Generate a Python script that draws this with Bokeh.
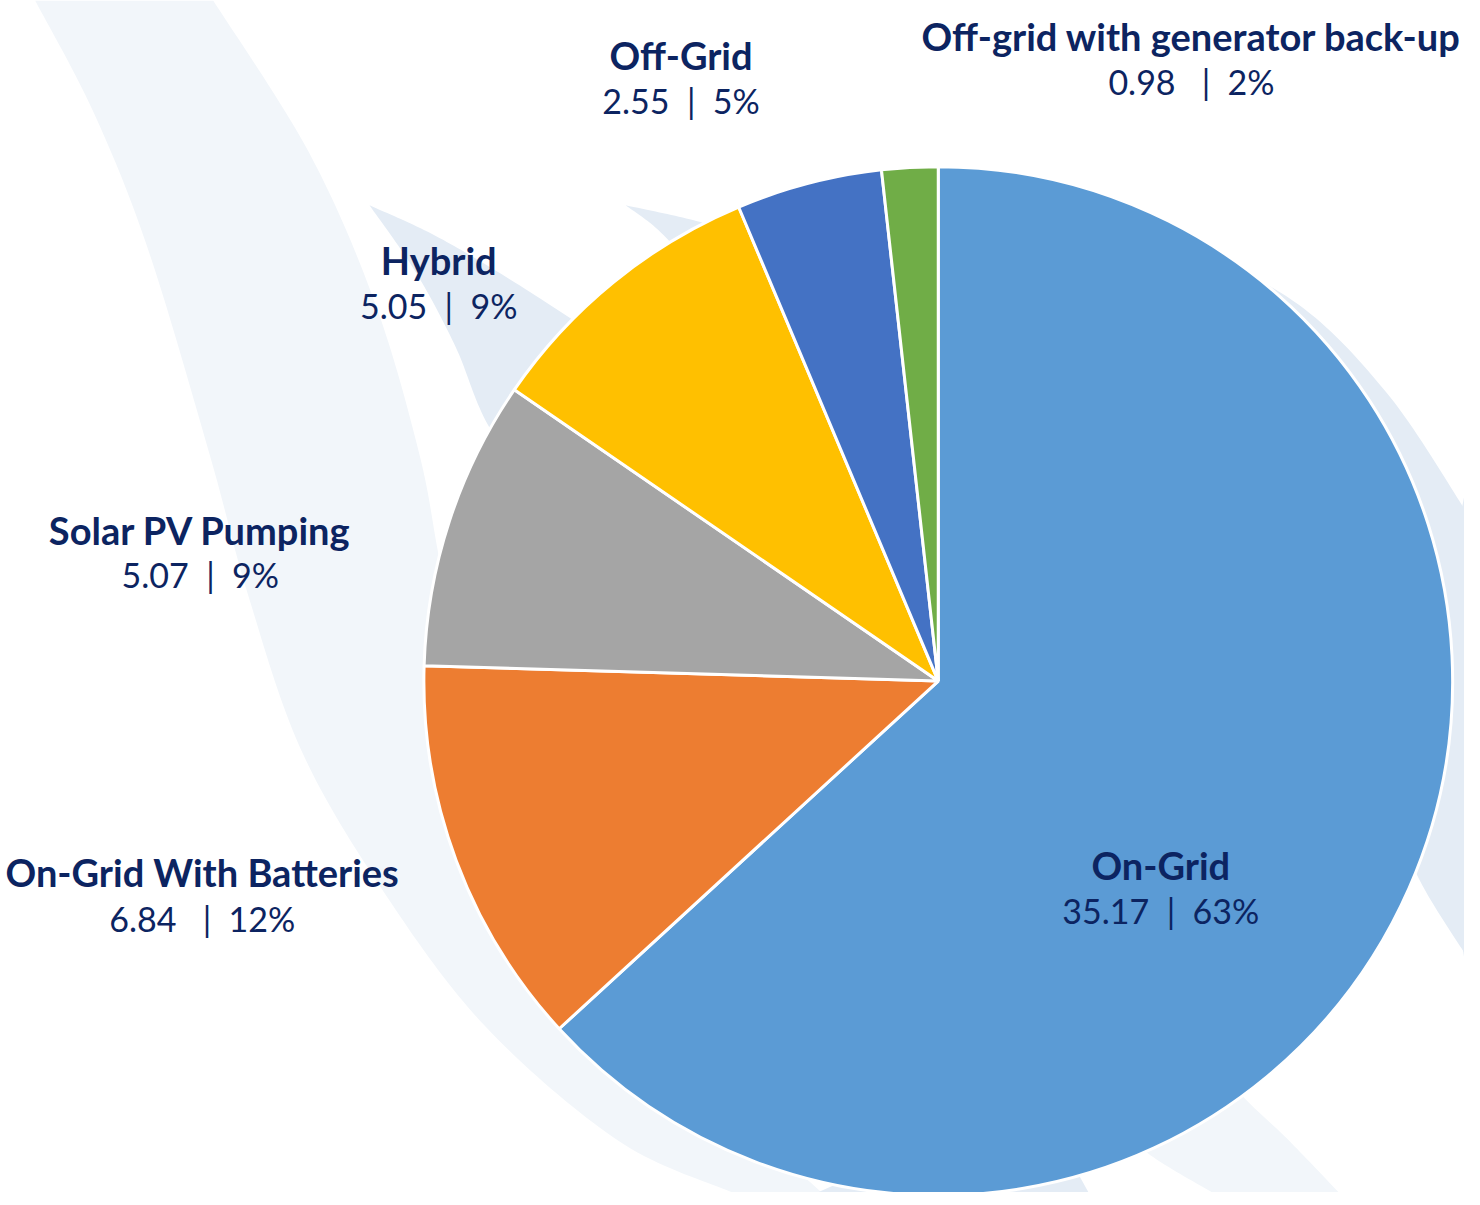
import numpy as np
from bokeh.plotting import figure
from bokeh.models import Range1d, ColumnDataSource
from bokeh.core.properties import value
from bokeh.embed import file_html
from bokeh.resources import INLINE

# ---------------- data ----------------
categories = ["On-Grid", "On-Grid With Batteries", "Solar PV Pumping",
              "Hybrid", "Off-Grid", "Off-grid with generator back-up"]
capacity = [35.17, 6.84, 5.07, 5.05, 2.55, 0.98]
colors = ["#5B9BD5", "#ED7D31", "#A5A5A5", "#FFC000", "#4472C4", "#70AD47"]

# ---------------- layout (reference pixel space 1480 x 1205) ----------------
W, H = 1480, 1205
CX, CY, R = 948, 688, 520
label_x = [1173, 204, 202, 443, 688, 1204]
title_base = [874, 881, 535, 262, 55, 36]
value_base = [920, 928, 580, 308, 101, 82]
gap_left = [2, 3, 2, 2, 2, 3]   # non-breaking spaces before the bar
NAVY = "#0C2461"
NB = "\u00a0"

def Y(y):
    return H - y

def smooth(pts, n=20):
    pts = np.asarray(pts, float)
    P = np.vstack([pts[0], pts, pts[-1]])
    out = []
    for i in range(1, len(P) - 2):
        p0, p1, p2, p3 = P[i - 1], P[i], P[i + 1], P[i + 2]
        for t in np.linspace(0, 1, n, endpoint=False):
            t2, t3 = t * t, t * t * t
            out.append(0.5 * ((2 * p1) + (-p0 + p2) * t + (2 * p0 - 5 * p1 + 4 * p2 - p3) * t2
                              + (-p0 + 3 * p1 - 3 * p2 + p3) * t3))
    out.append(pts[-1])
    return np.array(out)

p = figure(width=1464, height=1192, x_range=Range1d(0, W), y_range=Range1d(0, H),
           output_backend="svg", toolbar_location=None, min_border=0)
p.axis.visible = False
p.grid.visible = False
p.outline_line_color = None
p.background_fill_color = "white"
p.border_fill_color = "white"

PALE = "#F2F6FA"
LIGHT = "#E4ECF5"

def band(left, right, color):
    a = smooth(left)
    b = smooth(right)[::-1]
    pts = np.vstack([a, b])
    p.patch(pts[:, 0], [Y(v) for v in pts[:, 1]], fill_color=color, line_color=None)

# big pale swoosh on the left
band([(35, 0), (95, 115), (150, 254), (212, 461), (250, 600), (305, 760), (390, 905),
      (491, 1038), (625, 1153), (740, 1205)],
     [(215, 0), (312, 154), (379, 307), (424, 461), (446, 576), (480, 720), (570, 900),
      (700, 1080), (830, 1205)], PALE)
# pale swoosh bottom right
band([(1130, 1010), (1205, 1050), (1255, 1107), (1300, 1150), (1353, 1205)],
     [(1110, 1070), (1130, 1125), (1157, 1163), (1225, 1205)], PALE)
# light tip behind "Hybrid"
band([(373, 207), (440, 238), (520, 285), (620, 350)],
     [(373, 207), (420, 275), (460, 350), (495, 433), (560, 520)], LIGHT)
# small tip at the top
band([(632, 207), (700, 222), (760, 240)],
     [(632, 207), (665, 232), (700, 270)], LIGHT)
# right crescent
band([(1150, 230), (1300, 299), (1400, 395), (1480, 514)],
     [(1150, 230), (1300, 500), (1400, 800), (1433, 886), (1480, 963)], LIGHT)
p.patch([1480, 1480, 1440], [Y(500), Y(970), Y(700)], fill_color=LIGHT, line_color=None)
# bottom light piece
p.patch([826, 1100, 1086, 950], [Y(1205), Y(1205), Y(1180), Y(1150)], fill_color=LIGHT, line_color=None)

# ---------------- pie ----------------
vals = np.array(capacity)
total = vals.sum()
cum = np.concatenate([[0], np.cumsum(vals)]) / total
theta0 = 2 * np.pi * cum[:-1]
theta1 = 2 * np.pi * cum[1:]
src = ColumnDataSource(dict(
    cat=categories, val=capacity, color=colors,
    start=np.pi / 2 - theta1, end=np.pi / 2 - theta0,
))
p.wedge(x=CX, y=Y(CY), radius=R, start_angle="start", end_angle="end",
        fill_color="color", line_color="white", line_width=3, source=src)

# ---------------- labels ----------------
pcts = [int(round(v / total * 100)) for v in capacity]
value_txt = [f"{v:.2f}{NB * g}|{NB * 2}{pc}%" for v, g, pc in zip(capacity, gap_left, pcts)]
lsrc = ColumnDataSource(dict(
    x=label_x, ty=[Y(v) for v in title_base], vy=[Y(v) for v in value_base],
    title=categories, vtxt=value_txt,
))
p.text(x="x", y="ty", text="title", source=lsrc, text_align="center",
       text_baseline="alphabetic", text_font=value("Lato"), text_font_style="bold",
       text_font_size="38px", text_color=NAVY)
p.text(x="x", y="vy", text="vtxt", source=lsrc, text_align="center",
       text_baseline="alphabetic", text_font=value("Lato"), text_font_style="normal",
       text_font_size="34px", text_color=NAVY)

open("out.html", "w").write(file_html(p, INLINE))
